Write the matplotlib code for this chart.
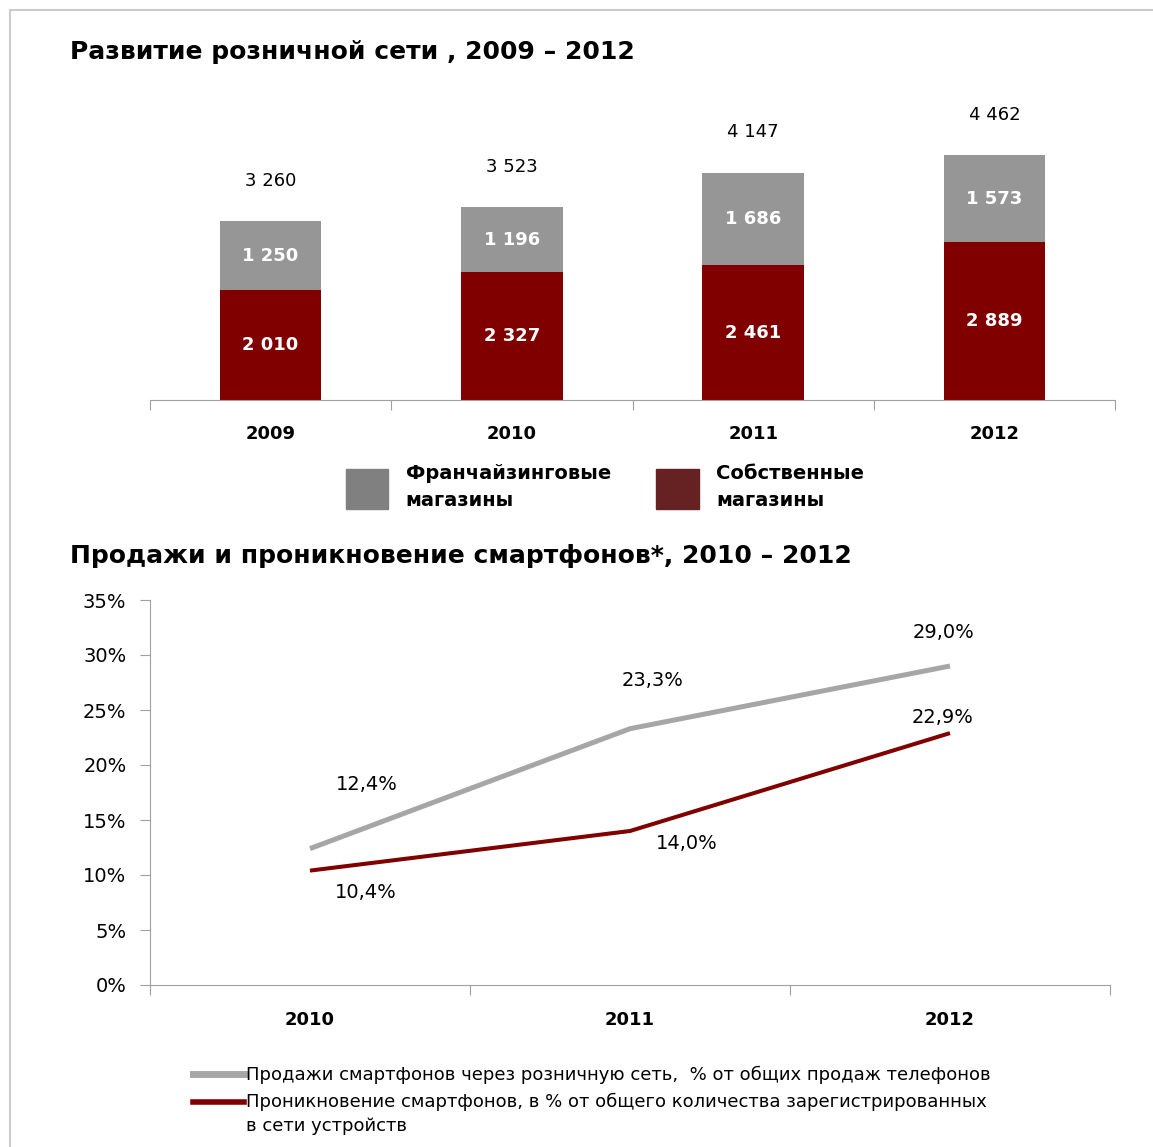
import matplotlib.pyplot as plt
from matplotlib.patches import Rectangle, Patch
from matplotlib.lines import Line2D

plt.rcParams['font.family'] = ['DejaVu Sans']

# данные: розничная сеть
years_shops = ['2009', '2010', '2011', '2012']
own_shops = [2010, 2327, 2461, 2889]
franchise_shops = [1250, 1196, 1686, 1573]
total_labels = ['3 260', '3 523', '4 147', '4 462']
own_labels = ['2 010', '2 327', '2 461', '2 889']
franchise_labels = ['1 250', '1 196', '1 686', '1 573']

# данные: смартфоны
years_phones = ['2010', '2011', '2012']
sales_share = [12.4, 23.3, 29.0]
penetration = [10.4, 14.0, 22.9]
sales_labels = ['12,4%', '23,3%', '29,0%']
pen_labels = ['10,4%', '14,0%', '22,9%']
pct_ticks = [0, 5, 10, 15, 20, 25, 30, 35]

RED = '#800000'
GREY_BAR = '#969696'
GREY_LINE = '#a6a6a6'
AX_COL = '#a0a0a0'

W, H = 1153, 1147
fig = plt.figure(figsize=(W / 100, H / 100), dpi=100)

# рамка
fig.patches.append(Rectangle((10 / W, -0.02), 1.05, 1 - 10 / H + 0.02,
                             transform=fig.transFigure, fill=False,
                             edgecolor='#cccccc', linewidth=1.5))

# ---- верхний график ----
ax1 = fig.add_axes([150 / W, 1 - 400 / H, 965 / W, 274 / H])
x = range(len(years_shops))
ax1.bar(x, own_shops, width=0.42, color=RED)
ax1.bar(x, franchise_shops, width=0.42, bottom=own_shops, color=GREY_BAR)
ax1.set_xlim(-0.5, 3.5)
ax1.set_ylim(0, 5000)
for i in x:
    ax1.text(i, own_shops[i] / 2, own_labels[i], ha='center', va='center',
             color='white', fontsize=13, fontweight='bold')
    ax1.text(i, own_shops[i] + franchise_shops[i] / 2, franchise_labels[i],
             ha='center', va='center', color='white', fontsize=13,
             fontweight='bold')
    ax1.annotate(total_labels[i], (i, own_shops[i] + franchise_shops[i]),
                 xytext=(0, 29), textcoords='offset points', ha='center',
                 va='center', fontsize=13, annotation_clip=False)
for s in ['left', 'right', 'top']:
    ax1.spines[s].set_visible(False)
ax1.spines['bottom'].set_color(AX_COL)
ax1.set_yticks([])
ax1.set_xticks([-0.5, 0.5, 1.5, 2.5, 3.5])
ax1.set_xticklabels([])
ax1.tick_params(axis='x', length=7, color=AX_COL)
ax1.set_xticks(list(x), minor=True)
ax1.set_xticklabels(years_shops, minor=True, fontsize=13, fontweight='bold')
ax1.tick_params(axis='x', which='minor', length=0, pad=18)

fig.text(70 / W, 1 - 52 / H, 'Развитие розничной сети , 2009 – 2012',
         fontsize=18, fontweight='bold', va='center', ha='left')

leg1 = fig.legend(handles=[Patch(color='#808080'), Patch(color='#662222')],
                  labels=['Франчайзинговые\nмагазины', 'Собственные\nмагазины'],
                  loc='center left', bbox_to_anchor=(328 / W, 1 - 487 / H),
                  ncol=2, frameon=False, prop={'size': 14, 'weight': 'bold'},
                  handlelength=2.2, handleheight=2.8, handletextpad=0.9,
                  columnspacing=2.3)
for t in leg1.get_texts():
    t.set_linespacing(1.5)

# ---- нижний график ----
fig.text(70 / W, 1 - 556 / H, 'Продажи и проникновение смартфонов*, 2010 – 2012',
         fontsize=18, fontweight='bold', va='center', ha='left')

ax2 = fig.add_axes([150 / W, 1 - 985 / H, 960 / W, 385 / H])
xp = range(len(years_phones))
ax2.plot(xp, sales_share, color=GREY_LINE, linewidth=3.6,
         solid_capstyle='butt')
ax2.plot(xp, penetration, color=RED, linewidth=2.9, solid_capstyle='butt')
ax2.set_xlim(-0.5, 2.5)
ax2.set_ylim(0, 35)

sales_off = [(41, 46), (16, 35), (-5, 24)]
pen_off = [(40, -16), (41, -9), (-5, 11)]
for i in xp:
    ax2.annotate(sales_labels[i], (i, sales_share[i]), xytext=sales_off[i],
                 textcoords='offset points', ha='center', va='center',
                 fontsize=14)
    ax2.annotate(pen_labels[i], (i, penetration[i]), xytext=pen_off[i],
                 textcoords='offset points', ha='center', va='center',
                 fontsize=14)

for s in ['right', 'top']:
    ax2.spines[s].set_visible(False)
ax2.spines['left'].set_color(AX_COL)
ax2.spines['bottom'].set_color(AX_COL)
ax2.set_yticks(pct_ticks)
ax2.set_yticklabels([f'{t}%' for t in pct_ticks], fontsize=14)
ax2.tick_params(axis='y', length=7, color=AX_COL, pad=10)
ax2.set_xticks([-0.5, 0.5, 1.5, 2.5])
ax2.set_xticklabels([])
ax2.tick_params(axis='x', length=7, color=AX_COL)
ax2.set_xticks(list(xp), minor=True)
ax2.set_xticklabels(years_phones, minor=True, fontsize=13, fontweight='bold')
ax2.tick_params(axis='x', which='minor', length=0, pad=19)

leg2 = fig.legend(handles=[Line2D([], [], color=GREY_LINE, linewidth=5),
                           Line2D([], [], color=RED, linewidth=4)],
                  labels=['Продажи смартфонов через розничную сеть,  % от общих продаж телефонов',
                          'Проникновение смартфонов, в % от общего количества зарегистрированных\nв сети устройств'],
                  loc='upper left', bbox_to_anchor=(177 / W, 1 - 1050 / H),
                  frameon=False, fontsize=13, handlelength=2.8,
                  handletextpad=0.1, labelspacing=0.45)
for t in leg2.get_texts():
    t.set_linespacing(1.45)
# маркер второй серии — на уровне первой строки подписи
h2 = leg2.legend_handles[1]
h2.set_ydata([v + 9.4 for v in h2.get_ydata()])

fig.savefig('out.png', dpi=100)
